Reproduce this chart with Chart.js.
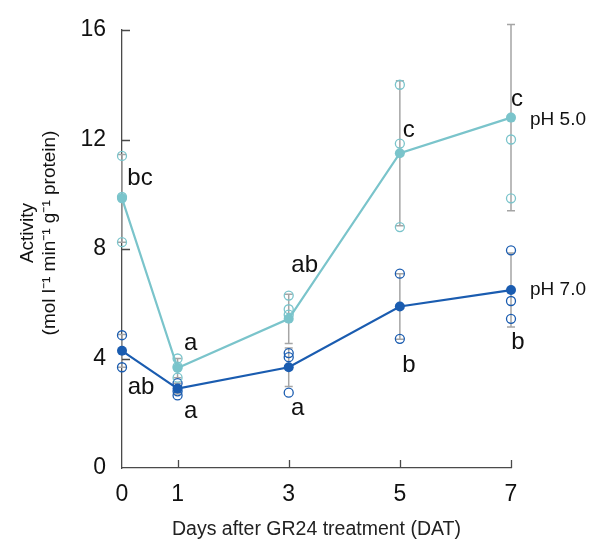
<!DOCTYPE html>
<html>
<head>
<meta charset="utf-8">
<script src="https://cdn.jsdelivr.net/npm/chart.js@4.4.1/dist/chart.umd.min.js"></script>
<style>
    html, body { margin: 0; padding: 0; background: #fff; }
    #contenedor { width: 598px; height: 542px; }
</style>
</head>
<body>
<div id="contenedor"><canvas id="grafica-actividad"></canvas></div>
<script>
//Datos
const dias = [0, 1, 3, 5, 7];
const xTicks = [0, 1, 3, 5, 7];
const yTicks = [0, 4, 8, 12, 16];
const series = ['pH 5.0', 'pH 7.0'];

//pH 5.0
const medias5 = [9.85, 3.65, 5.45, 11.5, 12.8];
const sd5 = [1.6, 0.35, 0.9, 2.65, 3.4];
const reps5 = [[11.4, 9.9, 8.25], [4.0, 3.7, 3.3], [6.3, 5.8, 5.6], [14.0, 11.85, 8.8], [16.5, 12.0, 9.85]];
const letras5 = ['bc', 'a', 'ab', 'c', 'c'];

//pH 7.0
const medias7 = [4.28, 2.9, 3.68, 5.9, 6.5];
const sd7 = [0.6, 0.2, 0.7, 1.2, 1.35];
const reps7 = [[4.85, 3.68], [3.1, 2.8, 2.65], [4.2, 4.05, 2.75], [7.1, 4.72], [7.95, 6.1, 5.45]];
const letras7 = ['ab', 'a', 'a', 'b', 'b'];

//Estilos y posiciones de textos (px respecto al punto medio)
const colores = ['#7ac4cb', '#1a5cb0'];
const desplaz5 = [[18, -20], [13, -25], [16, -53], [9, -23], [6, -18]];
const desplaz7 = [[19, 37], [13, 23], [9, 41], [9, 59], [7, 52]];
const fuente = '"Liberation Sans", Arial, Helvetica, sans-serif';

function puntos(medias) {
    return dias.map((d, i) => ({ x: d, y: medias[i] }));
}

function replicas(reps) {
    const out = [];
    reps.forEach((vals, i) => vals.forEach(v => out.push({ x: dias[i], y: v })));
    return out;
}

//Barras de error y marcas de eje hacia dentro
const barrasError = {
    id: 'barrasError',
    beforeDatasetsDraw(chart) {
        const { ctx, scales: { x, y } } = chart;
        ctx.save();
        ctx.strokeStyle = '#a5a5a5';
        ctx.lineWidth = 1.5;
        [[medias5, sd5], [medias7, sd7]].forEach(([m, s]) => {
            dias.forEach((d, i) => {
                const px = x.getPixelForValue(d);
                const arriba = y.getPixelForValue(m[i] + s[i]);
                const abajo = y.getPixelForValue(m[i] - s[i]);
                ctx.beginPath();
                ctx.moveTo(px, arriba); ctx.lineTo(px, abajo);
                ctx.moveTo(px - 4, arriba); ctx.lineTo(px + 4, arriba);
                ctx.moveTo(px - 4, abajo); ctx.lineTo(px + 4, abajo);
                ctx.stroke();
            });
        });
        //marcas de los ejes
        ctx.strokeStyle = '#4a4a4a';
        ctx.lineWidth = 1.3;
        ctx.beginPath();
        yTicks.filter(v => v > 0).forEach(v => {
            const py = Math.round(y.getPixelForValue(v)) + 0.5;
            ctx.moveTo(x.left, py); ctx.lineTo(x.left + 8, py);
        });
        xTicks.filter(v => v > 0).forEach(v => {
            const px = Math.round(x.getPixelForValue(v)) + 0.5;
            ctx.moveTo(px, y.bottom); ctx.lineTo(px, y.bottom - 8);
        });
        ctx.stroke();
        ctx.restore();
    }
};

//Letras de significancia, nombres de serie y título del eje Y
const textos = {
    id: 'textos',
    afterDraw(chart) {
        const { ctx, scales: { x, y } } = chart;
        ctx.save();
        ctx.fillStyle = '#111';
        ctx.textAlign = 'center';
        ctx.textBaseline = 'middle';
        ctx.font = '24px ' + fuente;
        dias.forEach((d, i) => {
            const px = x.getPixelForValue(d);
            ctx.fillText(letras5[i], px + desplaz5[i][0], y.getPixelForValue(medias5[i]) + desplaz5[i][1]);
            ctx.fillText(letras7[i], px + desplaz7[i][0], y.getPixelForValue(medias7[i]) + desplaz7[i][1]);
        });

        ctx.font = '19px ' + fuente;
        ctx.textAlign = 'left';
        const ultimo = dias.length - 1;
        ctx.fillText(series[0], x.right + 19, y.getPixelForValue(medias5[ultimo]) + 2);
        ctx.fillText(series[1], x.right + 19, y.getPixelForValue(medias7[ultimo]));

        ctx.font = '19px ' + fuente;
        ctx.textAlign = 'center';
        ctx.translate(x.left - 94, (y.top + y.bottom) / 2 - 16);
        ctx.rotate(-Math.PI / 2);
        ctx.fillText('Activity', 0, 0);
        ctx.fillText('(mol l\u207B\u00B9 min\u207B\u00B9 g\u207B\u00B9 protein)', 0, 22);
        ctx.restore();
    }
};

document.addEventListener('DOMContentLoaded', function() {
    const ctx = document.getElementById('grafica-actividad').getContext('2d');
    new Chart(ctx, {
        type: 'line',
        data: {
            datasets: [{
                label: series[0],
                data: puntos(medias5),
                borderColor: colores[0],
                backgroundColor: colores[0],
                borderWidth: 2.2,
                pointRadius: 5,
                pointBorderWidth: 0,
                clip: false
            }, {
                label: series[1],
                data: puntos(medias7),
                borderColor: colores[1],
                backgroundColor: colores[1],
                borderWidth: 2.2,
                pointRadius: 5,
                pointBorderWidth: 0,
                clip: false
            }, {
                label: series[0] + ' réplicas',
                data: replicas(reps5),
                showLine: false,
                borderColor: colores[0],
                backgroundColor: 'rgba(255,255,255,0)',
                pointRadius: 4.5,
                pointBorderWidth: 1.3,
                clip: false
            }, {
                label: series[1] + ' réplicas',
                data: replicas(reps7),
                showLine: false,
                borderColor: colores[1],
                backgroundColor: 'rgba(255,255,255,0)',
                pointRadius: 4.5,
                pointBorderWidth: 1.3,
                clip: false
            }]
        },
        options: {
            responsive: true,
            maintainAspectRatio: false,
            animation: false,
            layout: { padding: { top: 30, right: 87, left: 0, bottom: 0 } },
            plugins: {
                legend: { display: false },
                tooltip: { enabled: false }
            },
            scales: {
                x: {
                    type: 'linear',
                    min: 0,
                    max: 7,
                    grid: { display: false, drawTicks: false },
                    border: { display: true, color: '#4a4a4a', width: 1.3 },
                    ticks: { font: { family: fuente, size: 23 }, color: '#111', padding: 13 },
                    afterBuildTicks: s => { s.ticks = xTicks.map(v => ({ value: v })); },
                    afterFit: s => { s.height = 74; },
                    title: {
                        display: true,
                        text: 'Days after GR24 treatment (DAT)',
                        font: { family: fuente, size: 19.5 },
                        color: '#222',
                        padding: { top: 0, bottom: 1 }
                    }
                },
                y: {
                    type: 'linear',
                    min: 0,
                    max: 16,
                    grid: { display: false, drawTicks: false },
                    border: { display: true, color: '#4a4a4a', width: 1.3 },
                    ticks: { font: { family: fuente, size: 23 }, color: '#111', padding: 16 },
                    afterBuildTicks: s => { s.ticks = yTicks.map(v => ({ value: v })); },
                    afterFit: s => { s.width = 122; }
                }
            }
        },
        plugins: [barrasError, textos]
    });
});
</script>
</body>
</html>
